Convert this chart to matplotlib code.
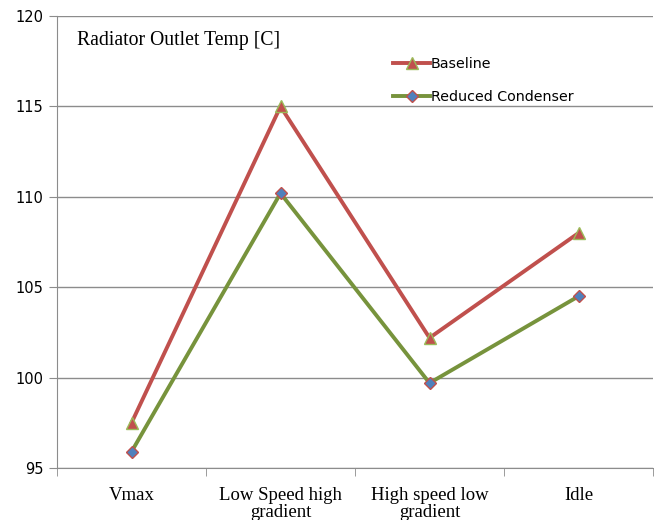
import matplotlib.pyplot as plt

categories = ["Vmax", "Low Speed high\ngradient", "High speed low\ngradient", "Idle"]
baseline = [97.5, 115.0, 102.2, 108.0]
reduced = [95.9, 110.2, 99.7, 104.5]
y_ticks = [95, 100, 105, 110, 115, 120]

fig = plt.figure(figsize=(6.54, 5.2), dpi=100)
ax = fig.add_axes([0.0872, 0.1, 0.9113, 0.869])

x = list(range(len(categories)))
ax.plot(x, baseline, color="#C0504D", lw=2.8, marker="^", ms=8,
        mfc="#C0504D", mec="#9BBB59", mew=1, label="Baseline", zorder=3)
ax.plot(x, reduced, color="#77933C", lw=2.8, marker="D", ms=6,
        mfc="#4F81BD", mec="#C0504D", mew=1, label="Reduced Condenser", zorder=3)

ax.set_xlim(-0.5, 3.5)
ax.set_ylim(95, 120)
ax.set_yticks(y_ticks)
ax.yaxis.grid(True, color="#8C8C8C", lw=1)
ax.set_axisbelow(True)

ax.set_xticks(x)
ax.set_xticklabels(categories, family="Liberation Serif", fontsize=13.5, linespacing=1.0)
ax.set_xticks([-0.5, 0.5, 1.5, 2.5, 3.5], minor=True)
ax.tick_params(axis="x", which="major", length=0, pad=14)
ax.tick_params(axis="x", which="minor", length=6, color="#8C8C8C", direction="out")
ax.tick_params(axis="y", length=6, color="#8C8C8C", labelsize=10.5, pad=4)

for s in ["top", "right"]:
    ax.spines[s].set_visible(False)
for s in ["left", "bottom"]:
    ax.spines[s].set_color("#8C8C8C")

fig.text(77 / 654, 1 - 40 / 520, "Radiator Outlet Temp [C]", family="Liberation Serif",
         fontsize=14.2, va="center", ha="left")

ax.legend(loc="upper left", bbox_to_anchor=(386 / 654, 1 - 50 / 520),
          bbox_transform=fig.transFigure, frameon=False, fontsize=10.3,
          labelspacing=1.35, handlelength=2.6, handletextpad=0.05, borderpad=0)

fig.savefig("out.png", dpi=100)
